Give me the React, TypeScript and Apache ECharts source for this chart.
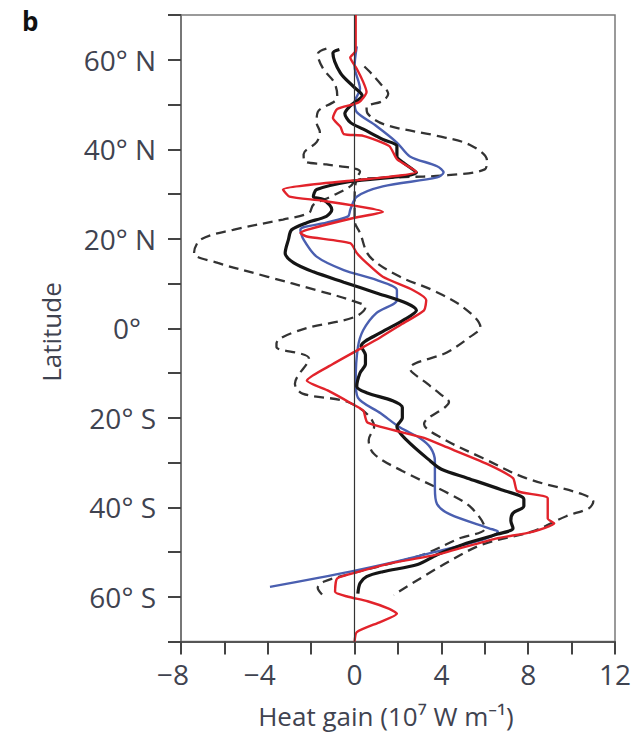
import React, { useEffect, useRef } from "react";
import * as echarts from "echarts";

// [latitude, heat gain (10^7 W m^-1)]
const redCurve: number[][] = [
  [70, 0.05], [65, 0.05], [62, 0.05], [60.5, -0.2], [58, 0.1], [55, 0.4], [52.8, 0.55], [50.5, 0.2],
  [49, -0.8], [47, -1.0], [45, -0.65], [43.4, -0.5], [43, 0.4], [40.7, 1.6], [37.8, 1.95], [35, 2.85],
  [31, -3.3], [29.4, -3.0], [28.5, -1.5], [26, 1.3], [24.7, 0], [22, -2.2], [21.3, -2.5], [20.5, -2.2],
  [19, -0.2], [16.8, 0.1], [14.6, 0.55], [11.5, 1.3], [8.5, 2.7], [6.3, 3.3], [4, 3.2], [1, 2.2],
  [-2, 1.2], [-5, 0.1], [-8, -1.0], [-11.7, -2.2], [-14, -1.2], [-16.8, -0.15], [-18.4, 0.4], [-21.1, 0.6],
  [-24.5, 3.2], [-26.3, 4.1], [-30.3, 6.1], [-33.5, 7.3], [-36.4, 7.5], [-38, 8.9], [-42.5, 8.9], [-43.6, 9.2],
  [-45.5, 8.2], [-47, 6.5], [-50.6, 3.8], [-52.6, 1.6], [-54.4, 0.2], [-55.9, -0.8], [-58.9, -0.9], [-60, -0.3],
  [-61, 0.6], [-62.7, 1.6], [-63.8, 1.95], [-65.6, 1.2], [-67.9, 0.1], [-70, 0],
];

const blackCurve: number[][] = [
  [62.3, -0.7], [61.5, -1.0], [57, -0.65], [54, -0.05], [52, 0.35], [49.7, -0.2], [48, -0.45], [46, -0.2],
  [44.5, 0.4], [42.2, 1.3], [40.7, 1.95], [38.4, 1.95], [37, 2.25], [34.8, 2.85], [32.8, -0.2], [31, -1.75],
  [29.4, -1.9], [28.8, -1.45], [26.5, -1.05], [25, -1.3], [23.6, -2.2], [22, -2.9], [19.8, -3.05], [16.8, -3.2],
  [14.6, -2.8], [12.6, -1.9], [10.3, -0.5], [7.9, 1.0], [5.6, 2.4], [4, 2.85], [1.8, 2.25], [-1, 1.2],
  [-4, 0.3], [-6, 0.5], [-8, 0.5], [-10, 0.25], [-13, 0.1], [-14.4, 0.55], [-16.2, 1.75], [-17.7, 2.2],
  [-20, 2.2], [-22, 1.95], [-25, 2.4], [-29.7, 3.5], [-31.5, 4.0], [-33.5, 5.2], [-36, 6.7], [-38.2, 7.8],
  [-39.8, 7.8], [-41.3, 7.3], [-43, 7.2], [-44.7, 7.3], [-46, 6.6], [-48.3, 5.0], [-50.6, 3.8], [-52.8, 2.9],
  [-54.4, 1.3], [-55.5, 0.55], [-57, 0.25], [-59.3, 0.15],
];

const blueCurve: number[][] = [
  [63, 0.1], [58.5, 0.0], [53.5, 0.25], [50.5, 0], [48.3, 0.1], [45.2, 1.0], [41.5, 1.95], [38.4, 2.55],
  [36.2, 3.8], [34.8, 4.1], [33.7, 3.8], [31.7, 1.3], [29.4, 0.1], [26.5, -0.2], [25, -0.3], [23.6, -1.3],
  [22, -2.5], [19.8, -2.35], [16, -1.75], [13, -0.5], [10.8, 1.0], [8.5, 1.95], [6.3, 1.95], [3.4, 1.0],
  [-0.4, 0.4], [-4.3, 0.15], [-11.7, 0.05], [-15.5, 0.15], [-19, 1.2], [-22.2, 2.1], [-24.5, 3.0], [-26.7, 3.5],
  [-29.7, 3.7], [-35.7, 3.7], [-39.3, 3.8], [-41.6, 4.4], [-44.7, 6.2], [-45.4, 6.6], [-50.6, 3.2], [-54.4, -0.2],
  [-57.8, -3.9],
];

const upperDashed: number[][] = [
  [58.5, 0.45], [57.3, 0.7], [54.6, 1.2], [52.4, 1.55], [50.8, 1.3], [49.4, 0.55], [48, 0.6], [45.5, 1.4],
  [43, 3.8], [41, 5.3], [37.5, 6.1], [35.5, 6.0], [34.2, 4.3], [33.7, 2.0], [33, 0.1], [28, 0.0],
  [24, 0.0], [21.3, 0.25], [16, 0.7], [11.5, 2.1], [8.5, 3.6], [4.7, 5.0], [0.2, 5.8], [-2, 5.3],
  [-5.4, 4.25], [-9, 2.55], [-12.4, 3.35], [-14.7, 3.95], [-16.5, 4.35], [-17.5, 4.2], [-21.4, 3.2], [-24.5, 4.0],
  [-29, 5.9], [-33.5, 7.9], [-37.1, 10.5], [-38.7, 11.0], [-40.2, 10.8], [-42, 9.75], [-45.4, 8.2], [-48.3, 5.9],
  [-52.8, 4.1], [-59.6, 1.8],
];

const lowerDashed: number[][] = [
  [62.5, -1.3], [61.3, -1.7], [58, -1.45], [55, -0.95], [52, -0.8], [50.8, -0.9], [48.3, -1.7], [46, -1.75],
  [43.8, -1.6], [41.6, -1.75], [38.9, -2.35], [37.3, -2.3], [36.6, -1.3], [35, 0.25], [33, 0.0], [31.7, -0.2],
  [29.4, -1.1], [27.6, -1.9], [25.8, -2.1], [24.3, -3.3], [22, -5.6], [19.8, -7.1], [16.8, -7.4], [14.6, -6.3],
  [11.5, -4.0], [8.5, -1.75], [6.3, -0.2], [4.7, 0.5], [2.5, 0.0], [-0.4, -2.5], [-3.4, -3.6], [-4.2, -3.6],
  [-6.8, -2.1], [-12.4, -2.75], [-14.6, -2.4], [-16.8, -0.15], [-22, 0.9], [-25, 0.65], [-28.1, 0.9], [-31.9, 2.2],
  [-37.1, 4.4], [-40.2, 5.4], [-44.7, 6.0], [-47, 4.8], [-50.5, 3.2], [-53, 1.3], [-55, -0.3], [-56.6, -1.4],
  [-58, -1.7], [-59.5, -1.5],
];

const FONT = '"Open Sans", "Noto Sans", "DejaVu Sans", sans-serif';
const TEXT = "#3f4350";

const toXY = (c: number[][]) => c.map(([lat, v]) => [v, lat]);

function latLabel(v: number): string {
  if (v === 0) return "{z|0°}";
  if (v % 20 !== 0 || Math.abs(v) >= 70) return "";
  return `${Math.abs(v)}° ${v > 0 ? "N" : "S"}`;
}

function heatLabel(v: number): string {
  if (v % 4 !== 0) return "";
  if (v < 0) return `{n|\u2212${Math.abs(v)}}`;
  return String(v);
}

export default function App() {
  const ref = useRef<HTMLDivElement>(null);
  useEffect(() => {
    const chart = echarts.init(ref.current!, null, { renderer: "svg" });
    const lineBase = {
      type: "line",
      showSymbol: false,
      symbol: "none",
      silent: true,
      clip: true,
    };
    chart.setOption({
      animation: false,
      backgroundColor: "#ffffff",
      grid: {
        left: 181,
        right: 28,
        top: 15,
        bottom: 96.5,
        show: true,
        borderColor: "#7a7a7a",
        borderWidth: 1.5,
        backgroundColor: "transparent",
      },
      xAxis: {
        type: "value",
        min: -8,
        max: 12,
        interval: 2,
        splitLine: { show: false },
        axisLine: { show: true, onZero: false, lineStyle: { color: "#555", width: 2 } },
        axisTick: { show: true, inside: false, length: 13, lineStyle: { color: "#444", width: 2 } },
        axisLabel: {
          show: true,
          margin: 18,
          fontFamily: FONT,
          fontSize: 28,
          color: TEXT,
          showMinLabel: true,
          showMaxLabel: true,
          formatter: heatLabel,
          rich: {
            n: { fontFamily: FONT, fontSize: 28, color: TEXT, padding: [0, 16, 0, 0] },
          },
        },
      },
      yAxis: {
        type: "value",
        min: -70,
        max: 70,
        interval: 10,
        splitLine: { show: false },
        axisLine: { show: true, onZero: false, lineStyle: { color: "#777", width: 2 } },
        axisTick: { show: true, inside: false, length: 13, lineStyle: { color: "#444", width: 2 } },
        axisLabel: {
          show: true,
          margin: 25,
          fontFamily: FONT,
          fontSize: 28,
          color: TEXT,
          showMinLabel: true,
          showMaxLabel: true,
          formatter: latLabel,
          rich: {
            z: { fontFamily: FONT, fontSize: 28, color: TEXT, padding: [0, 15, 0, 0] },
          },
        },
      },
      graphic: [
        {
          type: "text",
          left: 22,
          top: 8,
          style: { text: "b", font: `bold 26px ${FONT}`, fill: "#111" },
        },
        {
          type: "text",
          x: 51,
          y: 332,
          rotation: Math.PI / 2,
          style: {
            text: "Latitude",
            font: `26px ${FONT}`,
            fill: TEXT,
            align: "center",
            verticalAlign: "middle",
          },
        },
        {
          type: "text",
          x: 386,
          y: 716,
          style: {
            text: "Heat gain (10\u2077 W m\u207B\u00B9)",
            font: `26px ${FONT}`,
            fill: TEXT,
            align: "center",
            verticalAlign: "middle",
          },
        },
      ],
      series: [
        {
          ...lineBase,
          name: "upper",
          data: toXY(upperDashed),
          smooth: 0.35,
          lineStyle: { color: "#333", width: 2.3, type: [10, 6] },
          markLine: {
            silent: true,
            symbol: "none",
            label: { show: false },
            lineStyle: { color: "#333", width: 1.2, type: "solid" },
            data: [{ xAxis: 0 }],
          },
        },
        {
          ...lineBase,
          name: "lower",
          data: toXY(lowerDashed),
          smooth: 0.35,
          lineStyle: { color: "#333", width: 2.3, type: [10, 6] },
        },
        {
          ...lineBase,
          name: "blue",
          data: toXY(blueCurve),
          smooth: 0.3,
          lineStyle: { color: "#4a5fb0", width: 2.4 },
        },
        {
          ...lineBase,
          name: "black",
          data: toXY(blackCurve),
          smooth: 0.3,
          lineStyle: { color: "#151515", width: 3.2 },
        },
        {
          ...lineBase,
          name: "red",
          data: toXY(redCurve),
          smooth: 0.2,
          lineStyle: { color: "#e2232b", width: 2.4 },
        },
      ],
    });
    return () => chart.dispose();
  }, []);
  return (
    <div
      ref={ref}
      style={{ position: "fixed", left: 0, top: 0, width: 643, height: 738, background: "#fff" }}
    />
  );
}
